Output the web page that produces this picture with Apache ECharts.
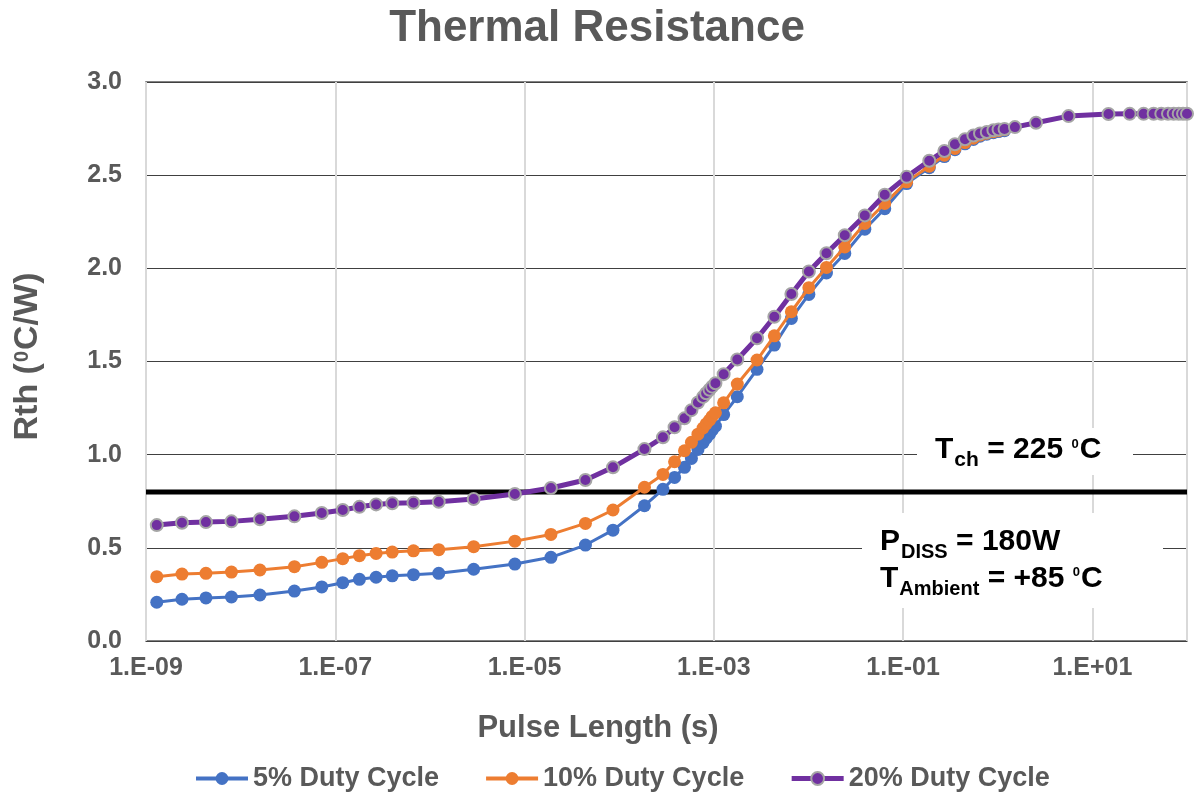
<!DOCTYPE html>
<html>
<head>
<meta charset="utf-8">
<script src="https://cdn.jsdelivr.net/npm/echarts@6/dist/echarts.min.js"></script>
<style>
  html, body { margin: 0; padding: 0; background: #fff; }
  #chart { width: 1194px; height: 800px; }
</style>
</head>
<body>
<div id="chart"></div>
<script>
// ---- Data ----
const pulseLength = [
  1.3e-9, 2.4e-9, 4.3e-9, 8.0e-9, 1.6e-8, 3.7e-8, 7.2e-8, 1.2e-7, 1.8e-7, 2.7e-7,
  4.0e-7, 6.7e-7, 1.24e-6, 2.9e-6, 7.9e-6, 1.9e-5, 4.4e-5, 8.6e-5, 1.85e-4, 2.9e-4,
  3.85e-4, 4.9e-4, 5.8e-4, 6.8e-4, 7.7e-4, 8.3e-4, 9.0e-4, 9.6e-4, 1.04e-3, 1.27e-3,
  1.77e-3, 2.86e-3, 4.36e-3, 6.6e-3, 1.01e-2, 1.55e-2, 2.42e-2, 3.94e-2, 6.4e-2, 0.109,
  0.189, 0.273, 0.353, 0.451, 0.553, 0.65, 0.766, 0.90, 1.02, 1.18,
  1.52, 2.54, 5.6, 14.8, 24.8, 34.8, 44.4, 53.5, 63, 72.3,
  81.7, 90.8, 100
];
const duty5 = [
  0.208, 0.224, 0.231, 0.236, 0.247, 0.268, 0.290, 0.313, 0.331, 0.342,
  0.350, 0.356, 0.363, 0.385, 0.413, 0.449, 0.515, 0.595, 0.726, 0.814,
  0.878, 0.932, 0.980, 1.028, 1.064, 1.088, 1.110, 1.131, 1.153, 1.215,
  1.311, 1.458, 1.588, 1.731, 1.860, 1.975, 2.080, 2.210, 2.320, 2.455,
  2.540, 2.600, 2.637, 2.668, 2.692, 2.709, 2.720, 2.728, 2.734, 2.739
];
const duty10 = [
  0.345, 0.359, 0.363, 0.370, 0.381, 0.399, 0.422, 0.442, 0.458, 0.470,
  0.477, 0.484, 0.490, 0.506, 0.536, 0.572, 0.631, 0.703, 0.825, 0.894,
  0.962, 1.021, 1.066, 1.110, 1.143, 1.165, 1.185, 1.205, 1.225, 1.278,
  1.379, 1.508, 1.638, 1.767, 1.896, 2.005, 2.115, 2.241, 2.348, 2.464,
  2.548, 2.607, 2.643, 2.675, 2.698, 2.715, 2.725, 2.733, 2.739, 2.744
];
const duty20 = [
  0.622, 0.635, 0.638, 0.642, 0.653, 0.669, 0.687, 0.703, 0.720, 0.733,
  0.739, 0.742, 0.747, 0.762, 0.789, 0.821, 0.864, 0.932, 1.030, 1.093,
  1.147, 1.195, 1.239, 1.280, 1.310, 1.330, 1.348, 1.365, 1.383, 1.432,
  1.511, 1.625, 1.740, 1.862, 1.983, 2.081, 2.178, 2.284, 2.395, 2.491,
  2.577, 2.630, 2.666, 2.693, 2.713, 2.724, 2.732, 2.741, 2.745, 2.748,
  2.758, 2.781, 2.817, 2.828, 2.829, 2.829, 2.830, 2.830, 2.830, 2.830,
  2.830, 2.830, 2.830
];
const seriesNames = ['5% Duty Cycle', '10% Duty Cycle', '20% Duty Cycle'];
const xTickLabels = ['1.E-09', '1.E-07', '1.E-05', '1.E-03', '1.E-01', '1.E+01'];
const yTickLabels = ['0.0', '0.5', '1.0', '1.5', '2.0', '2.5', '3.0'];
const channelLimit = 0.8;   // Rth level of Tch = 225 °C
const xRange = [1e-9, 100];

// ---- Chart ----
const FONT = '"Liberation Sans", Arial, sans-serif';
const GREY = '#595959';
const chart = echarts.init(document.getElementById('chart'), null, { renderer: 'canvas' });

function pairs(vals) { return vals.map((v, i) => [pulseLength[i], v]); }

function xLabel(v) {
  if (!(v > 0)) return '';
  const e = Math.round(Math.log10(v));
  const s = '1.E' + (e < 0 ? '-' : '+') + String(Math.abs(e)).padStart(2, '0');
  return xTickLabels.indexOf(s) >= 0 ? s : '';
}

const option = {
  animation: false,
  backgroundColor: '#ffffff',
  textStyle: { fontFamily: FONT },
  title: {
    text: 'Thermal Resistance',
    left: 'center',
    top: 2,
    textStyle: { fontFamily: FONT, fontSize: 44, fontWeight: 'bold', color: GREY }
  },
  grid: {
    left: 146, right: 7, top: 82, bottom: 159,
    show: true, borderColor: GREY, borderWidth: 1.5, backgroundColor: 'transparent'
  },
  legend: {
    data: [
      { name: seriesNames[0], lineStyle: { width: 4 } },
      { name: seriesNames[1], lineStyle: { width: 4 } },
      { name: seriesNames[2], lineStyle: { width: 5 } }
    ],
    bottom: 3,
    left: 189,
    itemWidth: 52,
    itemHeight: 16,
    itemGap: 45,
    lineStyle: { width: 4 },
    textStyle: { fontFamily: FONT, fontSize: 27, fontWeight: 'bold', color: GREY }
  },
  xAxis: {
    type: 'log',
    logBase: 10,
    min: xRange[0],
    max: xRange[1],
    interval: 2,
    axisLine: { show: false },
    axisTick: { show: false },
    minorTick: { show: false },
    axisLabel: {
      formatter: xLabel, margin: 15,
      fontFamily: FONT, fontSize: 25, fontWeight: 'bold', color: GREY,
      showMinLabel: true, showMaxLabel: true
    },
    splitLine: { show: true, lineStyle: { color: '#d9d9d9', width: 2 } }
  },
  yAxis: {
    type: 'value',
    min: 0, max: 3, interval: 0.5,
    name: '{a|Rth (}{s|0}{a|C/W)}',
    nameLocation: 'middle',
    nameGap: 95,
    nameRotate: 90,
    nameTextStyle: {
      padding: [0, 0, 0, 10],
      rich: {
        a: { fontFamily: FONT, fontSize: 34, fontWeight: 'bold', color: GREY, lineHeight: 40, verticalAlign: 'top' },
        s: { fontFamily: FONT, fontSize: 20, fontWeight: 'bold', color: GREY, lineHeight: 20, verticalAlign: 'top', padding: [1, 1, 0, 1] }
      }
    },
    axisLine: { show: false },
    axisTick: { show: false },
    axisLabel: {
      formatter: (v) => yTickLabels[Math.round(v / 0.5)] || '',
      margin: 24,
      fontFamily: FONT, fontSize: 25, fontWeight: 'bold', color: GREY
    },
    splitLine: { show: true, lineStyle: { color: '#404040', width: 1.2 } }
  },
  series: [
    {
      name: 'Tch limit',
      type: 'line',
      data: [[xRange[0], channelLimit], [xRange[1], channelLimit]],
      showSymbol: false,
      symbol: 'none',
      lineStyle: { color: '#000000', width: 5 },
      silent: true,
      z: 1
    },
    {
      name: seriesNames[0],
      type: 'line',
      data: pairs(duty5),
      symbol: 'circle',
      symbolSize: 13,
      lineStyle: { color: '#4472C4', width: 3 },
      itemStyle: { color: '#4472C4' },
      z: 2
    },
    {
      name: seriesNames[1],
      type: 'line',
      data: pairs(duty10),
      symbol: 'circle',
      symbolSize: 13,
      lineStyle: { color: '#ED7D31', width: 3 },
      itemStyle: { color: '#ED7D31' },
      z: 3
    },
    {
      name: seriesNames[2],
      type: 'line',
      data: pairs(duty20),
      symbol: 'circle',
      symbolSize: 12,
      lineStyle: { color: '#7030A0', width: 5 },
      itemStyle: { color: '#7030A0', borderColor: '#A5A5A5', borderWidth: 2 },
      z: 4
    }
  ],
  graphic: [
    {
      type: 'text', x: 598, y: 728,
      style: {
        text: 'Pulse Length (s)', align: 'center', verticalAlign: 'middle',
        font: 'bold 31px "Liberation Sans", Arial, sans-serif', fill: GREY
      }
    },
    { type: 'rect', z: 100, shape: { x: 917, y: 428, width: 216, height: 47 }, style: { fill: '#ffffff' } },
    { type: 'rect', z: 100, shape: { x: 862, y: 513, width: 301, height: 95 }, style: { fill: '#ffffff' } },
    {
      type: 'text', z: 101, x: 935, y: 435,
      style: {
        text: '{m|T}{b|ch}{m| = 225 }{p|0}{m|C}',
        verticalAlign: 'top', align: 'left',
        rich: {
          m: { fontFamily: FONT, fontSize: 30, fontWeight: 'bold', fill: '#000', lineHeight: 44, verticalAlign: 'top' },
          b: { fontFamily: FONT, fontSize: 21, fontWeight: 'bold', fill: '#000', lineHeight: 21, verticalAlign: 'top', padding: [15, 0, 0, 1] },
          p: { fontFamily: FONT, fontSize: 13, fontWeight: 'bold', fill: '#000', lineHeight: 13, verticalAlign: 'top', padding: [3, 1, 0, 0] }
        }
      }
    },
    {
      type: 'text', z: 101, x: 880, y: 527,
      style: {
        text: '{m|P}{b|DISS}{m| = 180W}',
        verticalAlign: 'top', align: 'left',
        rich: {
          m: { fontFamily: FONT, fontSize: 30, fontWeight: 'bold', fill: '#000', lineHeight: 40, verticalAlign: 'top' },
          b: { fontFamily: FONT, fontSize: 20, fontWeight: 'bold', fill: '#000', lineHeight: 20, verticalAlign: 'top', padding: [15, 0, 0, 1] }
        }
      }
    },
    {
      type: 'text', z: 101, x: 880, y: 564,
      style: {
        text: '{m|T}{b|Ambient}{m| = +85 }{p|0}{m|C}',
        verticalAlign: 'top', align: 'left',
        rich: {
          m: { fontFamily: FONT, fontSize: 30, fontWeight: 'bold', fill: '#000', lineHeight: 40, verticalAlign: 'top' },
          b: { fontFamily: FONT, fontSize: 20, fontWeight: 'bold', fill: '#000', lineHeight: 20, verticalAlign: 'top', padding: [15, 0, 0, 1] },
          p: { fontFamily: FONT, fontSize: 13, fontWeight: 'bold', fill: '#000', lineHeight: 13, verticalAlign: 'top', padding: [2, 1, 0, 0] }
        }
      }
    }
  ]
};
chart.setOption(option);
</script>
</body>
</html>
